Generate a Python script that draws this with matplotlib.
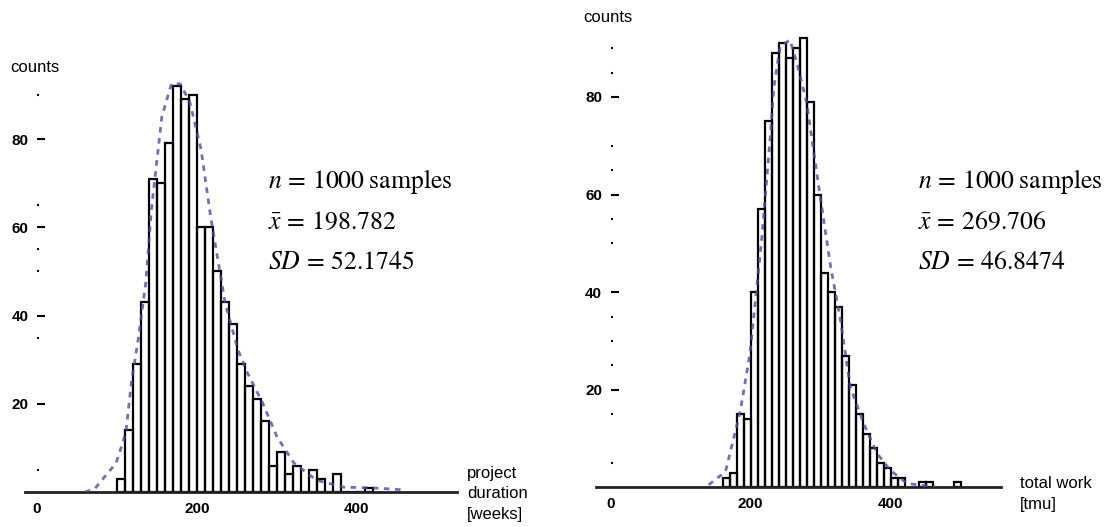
import matplotlib
matplotlib.use('Agg')
import matplotlib.pyplot as plt

plt.rcParams['mathtext.fontset'] = 'stix'

W, H = 1112, 527

# ---- left histogram: project duration (bin width 10) ----
dur_bins = [100, 110, 120, 130, 140, 150, 160, 170, 180, 190, 200, 210, 220,
            230, 240, 250, 260, 270, 280, 290, 300, 310, 320, 330, 340, 350,
            360, 370, 380, 390, 400, 410]
dur_counts = [3, 14, 29, 43, 71, 70, 79, 92, 89, 90, 60, 60, 50,
              43, 38, 29, 24, 21, 16, 6, 9, 4, 6, 0, 5, 3,
              0, 4, 0, 0, 0, 1]
dur_curve_x = [60, 72, 99, 111, 118, 127, 136, 143, 156, 168, 179, 191, 205,
               217, 235, 251, 263, 282, 300, 321, 349, 383, 423, 457]
dur_curve_y = [0, 0.7, 6.6, 13.4, 24.8, 35.2, 47.5, 64, 85, 92.5, 92.5, 88.4,
               77.7, 62.5, 43, 32.3, 27, 20.2, 12.5, 6.6, 2.7, 1.1, 0.9, 0.5]
dur_minor = [5, 35, 50, 55, 65, 90]

# ---- right histogram: total work (bin width 10) ----
work_bins = [160, 170, 180, 190, 200, 210, 220, 230, 240, 250, 260, 270, 280,
             290, 300, 310, 320, 330, 340, 350, 360, 370, 380, 390, 400, 410,
             440, 450, 490]
work_counts = [2, 3, 15, 14, 40, 57, 75, 89, 91, 88, 90, 92, 79,
               60, 44, 40, 37, 27, 21, 15, 11, 8, 5, 4, 2, 2,
               1, 1, 1]
work_curve_x = [140, 164, 185, 199, 216, 228, 233, 242, 256, 266, 280, 297,
                314, 328, 342, 361, 380, 399, 423, 466]
work_curve_y = [0.5, 3.2, 15.5, 27.5, 51.4, 72, 82, 90.3, 91.7, 86.9, 78.7,
                61.6, 45.2, 34.3, 20.6, 13.1, 7, 3.5, 0.8, 0]
work_minor = [5, 15, 25, 30, 35, 50, 55, 65, 70, 85, 90]

major_y = [20, 40, 60, 80]
major_x = [0, 200, 400]

fig = plt.figure(figsize=(W / 100, H / 100), dpi=100)


def box(x0, x1, ytop, ybot):
    return [x0 / W, 1 - ybot / H, (x1 - x0) / W, (ybot - ytop) / H]


def draw(ax, bins, counts, cx, cy, minor):
    ax.bar(bins, counts, width=10, align='edge', fill=False,
           edgecolor='black', linewidth=1.6, zorder=2)
    ax.plot(cx, cy, color='#4c4ca6', lw=2.0, ls=(0, (2, 2)), alpha=0.8, zorder=3)
    for s in ['top', 'right']:
        ax.spines[s].set_visible(False)
    ax.spines['left'].set_position(('data', 0))
    ax.spines['left'].set_color('none')
    ax.spines['bottom'].set_linewidth(2)
    ax.spines['bottom'].set_color('#222222')
    ax.set_xticks(major_x)
    ax.set_xticklabels([str(v) for v in major_x], fontsize=11,
                       fontweight='bold', family='Liberation Sans')
    ax.tick_params(axis='x', length=0, pad=7)
    ax.set_yticks(major_y)
    ax.set_yticklabels([str(v) for v in major_y], fontsize=11,
                       fontweight='bold', family='Liberation Sans')
    ax.set_yticks(minor, minor=True)
    ax.tick_params(axis='y', which='major', direction='in', length=6,
                   width=1.5, pad=6)
    ax.tick_params(axis='y', which='minor', direction='in', length=1.2,
                   width=1.5)
    ax.patch.set_visible(False)


# left axes: 0 at px 37, 0.80 px per unit; baseline y=492, 4.41 px per count
axl = fig.add_axes(box(25, 457, 64, 492))
draw(axl, dur_bins, dur_counts, dur_curve_x, dur_curve_y, dur_minor)
axl.set_xlim(-15, 525)
axl.set_ylim(0, 97)

# right axes: 0 at px 610.5, 0.70 px per unit; baseline y=487.3, 4.88 px per count
axr = fig.add_axes(box(596, 1001, 14, 487.3))
draw(axr, work_bins, work_counts, work_curve_x, work_curve_y, work_minor)
axr.set_xlim(-20.7, 557)
axr.set_ylim(0, 97)

lab = dict(family='Liberation Sans', fontsize=12, color='black')
fig.text(10 / W, 1 - 68 / H, 'counts', va='center', ha='left', **lab)
fig.text(583 / W, 1 - 18 / H, 'counts', va='center', ha='left', **lab)
fig.text(467 / W, 1 - 494 / H, 'project\nduration\n[weeks]', va='center',
         ha='left', linespacing=1.45, **lab)
fig.text(1020 / W, 1 - 494 / H, 'total work\n[tmu]', va='center',
         ha='left', linespacing=1.55, **lab)

stats = [
    (268, r'$n\,=\,1000\;\mathrm{samples}$', r'$\bar{x}\,=\,198.782$', r'$SD\,=\,52.1745$'),
    (918, r'$n\,=\,1000\;\mathrm{samples}$', r'$\bar{x}\,=\,269.706$', r'$SD\,=\,46.8474$'),
]
for x0, a, b, c in stats:
    for ypx, t in zip([182, 222, 262], [a, b, c]):
        fig.text(x0 / W, 1 - ypx / H, t, va='center', ha='left', fontsize=18.5)

fig.savefig('out.png', dpi=100)
